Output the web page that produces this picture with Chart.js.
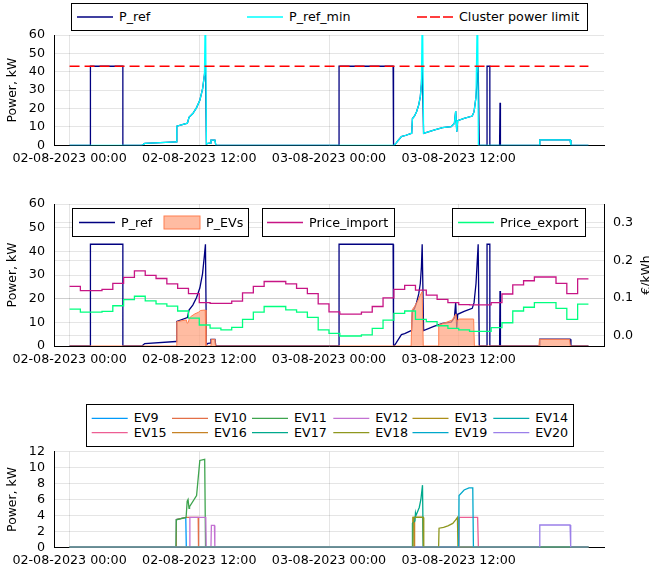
<!DOCTYPE html>
<html>
<head>
<meta charset="utf-8">
<script src="https://cdn.jsdelivr.net/npm/chart.js@4.4.0/dist/chart.umd.min.js"></script>
<style>
body { margin: 0; background: #fff; }
#page { position: relative; width: 649px; height: 571px; overflow: hidden; font-family: 'DejaVu Sans'; font-size: 12.7px; }
canvas { position: absolute; left: 0; }
.lg { position: absolute; border: 1px solid #000; background: #fff; box-sizing: border-box; }
.lt { position: absolute; line-height: 16px; white-space: nowrap; color: #000; }
#samples { position: absolute; left: 0; top: 0; }
</style>
</head>
<body>
<div id="page">
  <canvas id="top" width="649" height="180" style="top:0"></canvas>
  <canvas id="mid" width="649" height="195" style="top:180px"></canvas>
  <canvas id="evs" width="649" height="196" style="top:375px"></canvas>
</div>
<script>
// time axis, hours from 02-08-2023 00:00
const tickHours = [0, 12, 24, 36];
const tickLabels = ['02-08-2023 00:00', '02-08-2023 12:00', '03-08-2023 00:00', '03-08-2023 12:00'];

const pRefHours = [0, 1.93, 1.93, 4.93, 4.93, 6.7, 6.95, 9.85, 9.92, 10.9, 11.05, 11.4, 11.75, 12.05, 12.3, 12.48, 12.57, 12.66, 12.8, 13.0, 13.08, 13.45, 13.53, 24.93, 24.93, 29.93, 29.97, 30.05, 30.2, 30.45, 30.7, 31.0, 31.55, 31.65, 31.72, 31.9, 32.1, 32.3, 32.45, 32.55, 32.62, 32.75, 33.7, 34.5, 35.3, 35.6, 35.72, 35.82, 35.9, 36.5, 37.25, 37.42, 37.6, 37.8, 37.9, 38.62, 38.62, 38.88, 38.88, 39.78, 39.82, 39.86, 43.45, 43.5, 46.3, 46.38, 48];
const pRefValues = [0, 0, 43, 43, 0, 0, 1.0, 1.9, 10.4, 12.0, 15.2, 17.3, 20.5, 24.5, 30.5, 38.5, 43, 0.6, 1.1, 1.2, 2.8, 2.8, 0, 0, 43, 43, 0, 0.2, 1.2, 3.0, 4.8, 5.2, 6.4, 6.6, 14.6, 15.8, 18.3, 22.0, 26.5, 33.5, 43, 6.5, 8.3, 9.6, 10.1, 11.9, 18.6, 7.4, 13.4, 14.6, 15.9, 18.3, 26.4, 43, 0, 0, 43, 43, 0, 0, 23.2, 0, 0, 2.9, 2.9, 0, 0];

const pRefMinHours = [0, 6.7, 6.95, 9.85, 9.92, 10.9, 11.05, 11.4, 11.75, 12.05, 12.3, 12.48, 12.57, 12.66, 12.8, 13.0, 13.08, 13.45, 13.53, 29.97, 30.05, 30.2, 30.45, 30.7, 31.0, 31.55, 31.65, 31.72, 31.9, 32.1, 32.3, 32.45, 32.55, 32.64, 32.75, 33.7, 34.5, 35.3, 35.6, 35.72, 35.82, 35.9, 36.5, 37.25, 37.42, 37.6, 37.74, 37.82, 43.45, 43.5, 46.3, 46.38, 48];
const pRefMinValues = [0, 0, 1.0, 1.9, 10.4, 12.0, 15.2, 17.3, 20.5, 24.5, 30.5, 38.5, 80, 0.6, 1.1, 1.2, 2.8, 2.8, 0, 0, 0.2, 1.2, 3.0, 4.8, 5.2, 6.4, 6.6, 14.6, 15.8, 18.3, 22.0, 26.5, 33.5, 80, 6.5, 8.3, 9.6, 10.1, 11.9, 18.6, 7.4, 13.4, 14.6, 15.9, 18.3, 26.4, 80, 0, 0, 2.9, 2.9, 0, 0];

const limitHours = [0, 48];
const limitValues = [43, 43];

const pEVsHours = [0, 9.88, 9.92, 10.8, 10.88, 10.98, 11.08, 11.2, 11.6, 11.95, 12.1, 12.55, 12.62, 13.08, 13.12, 13.45, 13.5, 31.6, 31.68, 31.95, 32.2, 32.45, 32.62, 32.72, 34.1, 34.15, 34.8, 35.4, 35.74, 35.84, 36.0, 37.38, 37.45, 43.42, 43.47, 46.26, 46.32, 48];
const pEVsValues = [0, 0, 10.3, 11.0, 9.6, 9.9, 11.6, 12.4, 13.6, 14.3, 15.0, 15.2, 0, 0, 2.8, 2.8, 0, 0, 15.2, 17.0, 19.0, 21.5, 23.0, 0, 0, 8.9, 9.9, 11.0, 13.5, 10.3, 11.4, 11.4, 0, 0, 2.8, 2.8, 0, 0];

// hourly prices, €/kWh, hour 0 .. 47
const priceImport = [0.131, 0.120, 0.120, 0.123, 0.139, 0.155, 0.172, 0.160, 0.152, 0.138, 0.126, 0.112,
  0.088, 0.086, 0.086, 0.092, 0.114, 0.131, 0.144, 0.144, 0.138, 0.126, 0.112, 0.085,
  0.064, 0.058, 0.058, 0.063, 0.078, 0.101, 0.123, 0.134, 0.121, 0.108, 0.097, 0.088,
  0.083, 0.082, 0.082, 0.088, 0.111, 0.135, 0.146, 0.156, 0.156, 0.139, 0.112, 0.151];
const priceExport = [0.071, 0.063, 0.063, 0.065, 0.080, 0.096, 0.105, 0.093, 0.085, 0.079, 0.066, 0.047,
  0.029, 0.021, 0.016, 0.023, 0.044, 0.063, 0.078, 0.078, 0.069, 0.063, 0.049, 0.016,
  0.007, 0.000, 0.000, 0.003, 0.020, 0.042, 0.060, 0.066, 0.044, 0.038, 0.027, 0.020,
  0.016, 0.012, 0.012, 0.022, 0.035, 0.066, 0.076, 0.088, 0.088, 0.073, 0.044, 0.084];

const evNames = ['EV9', 'EV10', 'EV11', 'EV12', 'EV13', 'EV14', 'EV15', 'EV16', 'EV17', 'EV18', 'EV19', 'EV20'];
const evColors = ['#009AFA', '#E36F47', '#3EA44E', '#C371D2', '#AC8E18', '#00AAAE', '#ED5E93', '#C68225', '#00A98D', '#8E971E', '#00A8CB', '#9B7FE9'];
const ev9Hours = [0, 9.85, 9.88, 10.75, 10.8, 48];
const ev9Values = [0, 0, 3.5, 3.75, 0, 0];
const ev10Hours = [0, 9.85, 9.88, 10.78, 11.9, 11.93, 48];
const ev10Values = [0, 0, 3.5, 3.75, 3.75, 0, 0];
const ev11Hours = [0, 9.84, 9.88, 10.78, 10.88, 10.96, 11.05, 11.1, 11.75, 12.05, 12.5, 12.58, 48];
const ev11Values = [0, 0, 3.45, 3.75, 5.8, 6.0, 4.9, 5.1, 6.5, 10.9, 11.05, 0, 0];
const ev12Hours = [0, 11.1, 11.13, 12.6, 12.64, 13.08, 13.12, 13.4, 13.44, 48];
const ev12Values = [0, 0, 3.75, 3.75, 0, 0, 2.75, 2.75, 0, 0];
const ev13Hours = [0, 31.72, 31.76, 32.7, 32.74, 48];
const ev13Values = [0, 0, 3.75, 3.75, 0, 0];
const ev14Hours = [0, 48];
const ev14Values = [0, 0];
const ev15Hours = [0, 36.02, 36.05, 37.75, 37.82, 48];
const ev15Values = [0, 0, 3.75, 3.75, 0, 0];
const ev16Hours = [0, 31.88, 31.92, 32.7, 32.73, 48];
const ev16Values = [0, 0, 3.75, 3.75, 0, 0];
const ev17Hours = [0, 31.68, 31.72, 31.95, 32.0, 32.05, 32.35, 32.5, 32.65, 32.72, 48];
const ev17Values = [0, 0, 3.0, 3.3, 4.3, 4.0, 5.0, 6.0, 7.8, 0, 0];
const ev18Hours = [0, 31.76, 31.8, 32.72, 32.76, 34.14, 34.18, 34.6, 35.0, 35.45, 35.7, 35.88, 35.93, 48];
const ev18Values = [0, 0, 3.75, 3.75, 0, 0, 2.4, 2.5, 2.7, 3.0, 3.4, 3.75, 0, 0];
const ev19Hours = [0, 36.0, 36.03, 36.5, 36.95, 37.3, 37.36, 48];
const ev19Values = [0, 0, 6.5, 7.2, 7.45, 7.45, 0, 0];
const ev20Hours = [0, 43.45, 43.5, 46.3, 46.36, 48];
const ev20Values = [0, 0, 2.8, 2.8, 0, 0];
const evHours = [ev9Hours, ev10Hours, ev11Hours, ev12Hours, ev13Hours, ev14Hours, ev15Hours, ev16Hours, ev17Hours, ev18Hours, ev19Hours, ev20Hours];
const evValues = [ev9Values, ev10Values, ev11Values, ev12Values, ev13Values, ev14Values, ev15Values, ev16Values, ev17Values, ev18Values, ev19Values, ev20Values];

Chart.defaults.font.family = "'DejaVu Sans'";
Chart.defaults.font.size = 12.7;
Chart.defaults.color = '#000';

function pts(hours, values) {
  return hours.map((h, i) => ({ x: h, y: values[i] }));
}
function hourly(prices) {
  // step line: each price holds for its hour, last one until hour 48
  const out = prices.map((p, i) => ({ x: i, y: p }));
  out.push({ x: prices.length, y: prices[prices.length - 1] });
  return out;
}

const gridColor = 'rgba(0,0,0,0.1)';

function xAxis(h) {
  return {
    type: 'linear', min: -1.44, max: 49.44,
    afterBuildTicks: a => { a.ticks = tickHours.map(v => ({ value: v })); },
    afterFit: s => { s.height = h; },
    ticks: { callback: v => tickLabels[tickHours.indexOf(v)], padding: 6, maxRotation: 0, autoSkip: false },
    grid: { color: gridColor, drawTicks: false },
    border: { color: '#000' }
  };
}
function yAxis(max, step) {
  return {
    min: 0, max: max,
    afterFit: s => { s.width = 54; },
    ticks: { stepSize: step, padding: 9, autoSkip: false },
    grid: { color: gridColor, drawTicks: false },
    border: { color: '#000' },
    title: { display: true, text: 'Power, kW', font: { size: 12.4 }, padding: { top: 5, bottom: 0 } }
  };
}
const common = {
  responsive: false,
  animation: false,
  devicePixelRatio: 1,
  elements: { point: { radius: 0 }, line: { borderWidth: 1.3, tension: 0 } },
  plugins: { legend: { display: false }, tooltip: { enabled: false } }
};

new Chart(document.getElementById('top'), {
  type: 'line',
  data: {
    datasets: [
      { label: 'P_ref', data: pts(pRefHours, pRefValues), borderColor: '#000080', order: 3 },
      { label: 'P_ref_min', data: pts(pRefMinHours, pRefMinValues), borderColor: '#00FFFF', order: 2 },
      { label: 'Cluster power limit', data: pts(limitHours, limitValues), borderColor: '#FF0000', borderDash: [10, 5], order: 1 }
    ]
  },
  options: Object.assign({}, common, {
    layout: { padding: { top: 35, right: 45, left: 0, bottom: 0 } },
    scales: { x: xAxis(34.7), y: yAxis(60, 10) }
  })
});

const kwhLabel = {
  id: 'kwhLabel',
  afterDraw(chart) {
    const c = chart.ctx;
    const a = chart.chartArea;
    c.save();
    c.translate(641, (a.top + a.bottom) / 2);
    c.rotate(-Math.PI / 2);
    c.textAlign = 'center';
    c.textBaseline = 'top';
    c.font = "12.4px 'DejaVu Sans'";
    c.fillStyle = '#000';
    c.fillText('€/kWh', 0, 0);
    c.restore();
  }
};

new Chart(document.getElementById('mid'), {
  type: 'line',
  data: {
    datasets: [
      { label: 'P_ref', data: pts(pRefHours, pRefValues), borderColor: '#000080', yAxisID: 'y', order: 4 },
      { label: 'P_EVs', data: pts(pEVsHours, pEVsValues), borderColor: '#FF7F50', borderWidth: 1,
        backgroundColor: 'rgba(255,160,122,0.7)', fill: 'origin', yAxisID: 'y', order: 3 },
      { label: 'Price_import', data: hourly(priceImport), borderColor: '#C71585', stepped: true, yAxisID: 'y2', order: 2 },
      { label: 'Price_export', data: hourly(priceExport), borderColor: '#00FF7F', stepped: true, yAxisID: 'y2', order: 1 }
    ]
  },
  options: Object.assign({}, common, {
    layout: { padding: { top: 24, right: 0, left: 0, bottom: 0 } },
    scales: {
      x: xAxis(29),
      y: yAxis(60, 10),
      y2: {
        position: 'right', min: -0.0265, max: 0.349,
        afterBuildTicks: a => { a.ticks = [0, 0.1, 0.2, 0.3].map(v => ({ value: v })); },
        afterFit: s => { s.width = 45; },
        ticks: { callback: v => v.toFixed(1), padding: 9, autoSkip: false },
        grid: { color: gridColor, drawTicks: false },
        border: { color: '#000' }
      }
    }
  }),
  plugins: [kwhLabel]
});

new Chart(document.getElementById('evs'), {
  type: 'line',
  data: {
    datasets: evNames.map((n, i) => ({
      label: n, data: pts(evHours[i], evValues[i]), borderColor: evColors[i], order: evNames.length - i
    }))
  },
  options: Object.assign({}, common, {
    layout: { padding: { top: 76.7, right: 45, left: 0, bottom: 0 } },
    scales: { x: xAxis(23.7), y: yAxis(12, 2) }
  })
});

// legends, drawn as in the original: boxed, with line samples
const page = document.getElementById('page');
const NS = 'http://www.w3.org/2000/svg';
function legendBox(l, t, w, h) {
  const d = document.createElement('div');
  d.className = 'lg';
  Object.assign(d.style, { left: l + 'px', top: t + 'px', width: w + 'px', height: h + 'px' });
  page.appendChild(d);
}
const svg = document.createElementNS(NS, 'svg');
svg.setAttribute('id', 'samples');
svg.setAttribute('width', 649);
svg.setAttribute('height', 571);
function legendItem(x, y, label, color, opts) {
  opts = opts || {};
  if (opts.patch) {
    const r = document.createElementNS(NS, 'rect');
    r.setAttribute('x', x); r.setAttribute('y', y - 6.5);
    r.setAttribute('width', 36); r.setAttribute('height', 13);
    r.setAttribute('fill', opts.patch); r.setAttribute('stroke', color); r.setAttribute('stroke-width', 1);
    svg.appendChild(r);
  } else {
    const ln = document.createElementNS(NS, 'line');
    ln.setAttribute('x1', x); ln.setAttribute('x2', x + 36);
    ln.setAttribute('y1', y); ln.setAttribute('y2', y);
    ln.setAttribute('stroke', color); ln.setAttribute('stroke-width', 1.3);
    if (opts.dash) ln.setAttribute('stroke-dasharray', opts.dash);
    svg.appendChild(ln);
  }
  const t = document.createElement('div');
  t.className = 'lt';
  t.textContent = label;
  t.style.left = (x + 42) + 'px';
  t.style.top = (y - 8) + 'px';
  page.appendChild(t);
}

legendBox(71, 3, 517, 28);
legendItem(77, 17, 'P_ref', '#000080');
legendItem(247, 17, 'P_ref_min', '#00FFFF');
legendItem(417, 17, 'Cluster power limit', '#FF0000', { dash: '10 3' });

legendBox(72, 208, 177, 29);
legendItem(79, 222.5, 'P_ref', '#000080');
legendItem(164, 222.5, 'P_EVs', '#FF7F50', { patch: 'rgba(255,160,122,0.7)' });
legendBox(262, 208, 133, 29);
legendItem(267, 222.5, 'Price_import', '#C71585');
legendBox(452, 208, 134, 29);
legendItem(458, 222.5, 'Price_export', '#00FF7F');

legendBox(85.5, 404, 488, 43);
const colX = [91.7, 172, 252, 333.3, 412.5, 493.3];
const rowY = [418.3, 432.7];
evNames.forEach((n, i) => {
  legendItem(colX[i % 6], rowY[Math.floor(i / 6)], n, evColors[i]);
});
page.appendChild(svg);
</script>
</body>
</html>
